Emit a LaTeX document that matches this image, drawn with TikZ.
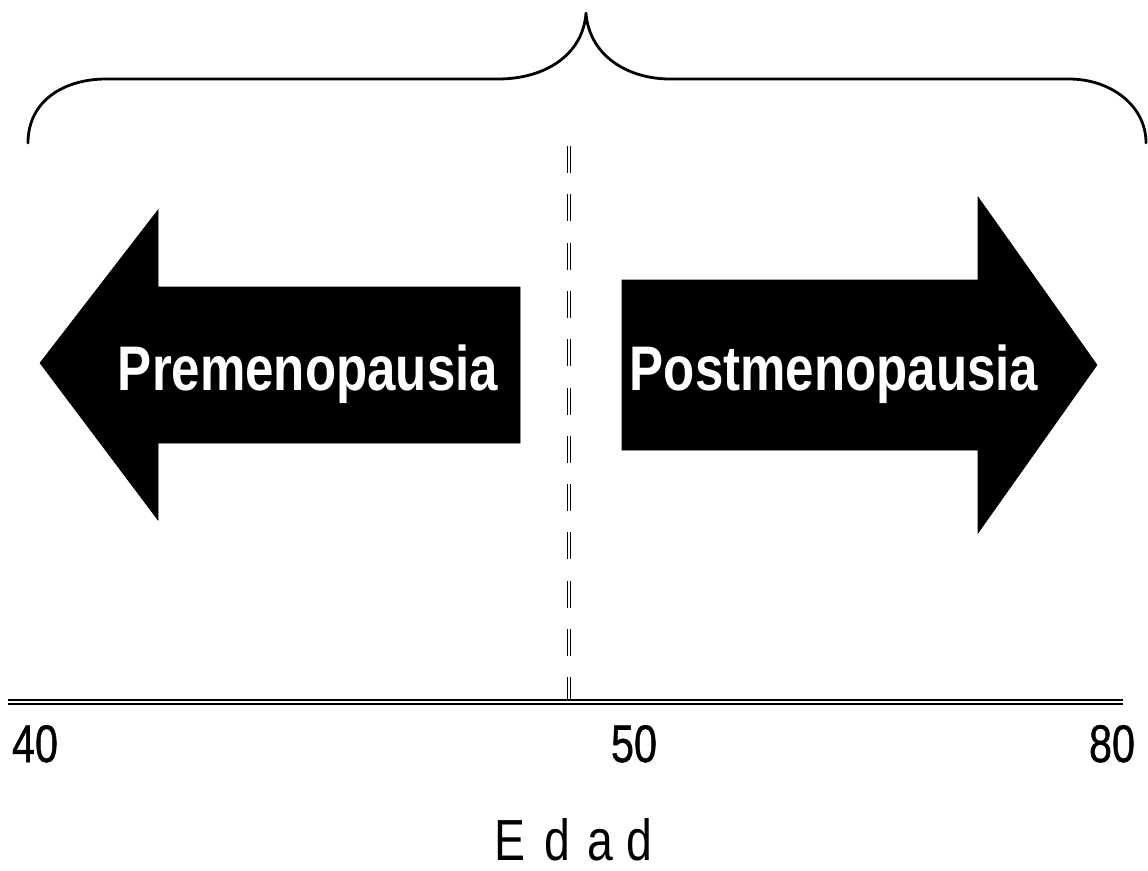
\documentclass[tikz,border=0pt]{standalone}
\usepackage{fontspec}
\setmainfont{Liberation Sans}
\newfontfamily\tickfont[FakeBold=1]{Liberation Sans}
\usepackage{graphicx}
\begin{document}
\begin{tikzpicture}[x=1pt,y=-1pt,
  arrowshape/.style={fill=black, draw=black, line width=0.6pt, line join=miter},
  arrowlabel/.style={text=white, anchor=base, inner sep=0pt,
    font=\fontsize{63}{70}\selectfont\bfseries},
  ticklabel/.style={anchor=base, inner sep=0pt, font=\tickfont\fontsize{53}{60}\selectfont},
  axistitle/.style={anchor=base, inner sep=0pt, font=\fontsize{58}{64}\selectfont},
  bracestroke/.style={line width=2.8pt, line cap=round, line join=round},
  axisline/.style={double=white, double distance=2pt, line width=1.6pt},
  divider/.style={double=white, double distance=1.5pt, line width=1pt,
    dash pattern=on 27pt off 21.3pt}
]
\useasboundingbox (0,0) rectangle (1148,870);

% curly brace spanning the whole age range
\draw[bracestroke] (28,143) .. controls (28,100) and (65,79) .. (106,79)
  -- (498,79) .. controls (545,79) and (583,55) .. (586,13)
  .. controls (589,55) and (627,79) .. (670,79)
  -- (1069,79) .. controls (1110,79) and (1146,105) .. (1146,143);

% menopause divider and age axis
\coordinate (divtop) at (569,146);
\coordinate (divbot) at (569,701);
\coordinate (axL) at (8,702);
\coordinate (axR) at (1123,702);
\draw[divider] (divtop) -- (divbot);
\draw[axisline] (axL) -- (axR);

% block arrows
\fill[arrowshape] (40,363) -- (158,210) -- (158,287) -- (520,287)
  -- (520,443) -- (158,443) -- (158,520) -- cycle;
\fill[arrowshape] (1097,365) -- (978,197) -- (978,280) -- (622,280)
  -- (622,450) -- (978,450) -- (978,533) -- cycle;

\node[arrowlabel] (pre) at (308,390) {\scalebox{0.81}[1]{Premenopausia}};
\node[arrowlabel] (post) at (834,390) {\scalebox{0.81}[1]{Postmenopausia}};

% axis ticks and title
\node[ticklabel] (t40) at (35,762) {\scalebox{0.78}[1]{40}};
\node[ticklabel] (t50) at (634,762) {\scalebox{0.78}[1]{50}};
\node[ticklabel] (t80) at (1112,762) {\scalebox{0.78}[1]{80}};
\node[axistitle] (edad) at (573,860)
  {\scalebox{0.8}[1]{E\hspace{24pt}d\hspace{22pt}a\hspace{16pt}d}};
\end{tikzpicture}
\end{document}
